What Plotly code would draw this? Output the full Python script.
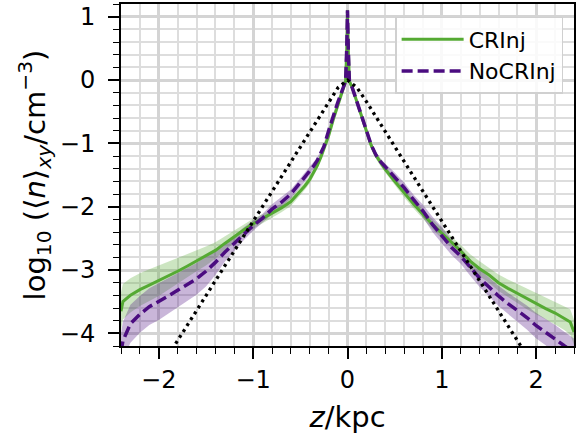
import numpy as np
import plotly.graph_objects as go

# ---- data ----
z = [-2.4, -2.38, -2.3, -2.2, -2.1, -2.0, -1.9, -1.8, -1.7, -1.6,
     -1.5, -1.4, -1.3, -1.2, -1.1, -1.0, -0.9, -0.8, -0.7, -0.6,
     -0.5, -0.45, -0.4, -0.36, -0.32, -0.28, -0.25, -0.2, -0.15, -0.1,
     -0.05, -0.02, -0.008, 0.0, 0.008, 0.02, 0.05, 0.1, 0.15, 0.2,
     0.25, 0.3, 0.35, 0.4, 0.5, 0.6, 0.7, 0.8, 0.9, 1.0,
     1.1, 1.2, 1.3, 1.4, 1.5, 1.6, 1.7, 1.8, 1.9, 2.0,
     2.1, 2.2, 2.3, 2.36, 2.4]

crinj = [-3.65, -3.50, -3.40, -3.31, -3.24, -3.17, -3.10, -3.02, -2.94, -2.86,
         -2.78, -2.69, -2.58, -2.47, -2.37, -2.27, -2.19, -2.11, -2.02, -1.92,
         -1.76, -1.67, -1.57, -1.47, -1.35, -1.21, -1.09, -0.88, -0.62, -0.38,
         -0.15, -0.02, 0.50, 1.10, 0.50, -0.02, -0.12, -0.35, -0.58, -0.82,
         -1.03, -1.19, -1.31, -1.41, -1.60, -1.78, -1.96, -2.12, -2.28, -2.42,
         -2.56, -2.70, -2.86, -2.98, -3.08, -3.20, -3.29, -3.37, -3.46, -3.53,
         -3.61, -3.68, -3.76, -3.82, -3.98]

nocrinj = [-4.30, -4.12, -3.85, -3.70, -3.58, -3.50, -3.41, -3.32, -3.23, -3.14,
           -3.02, -2.88, -2.72, -2.58, -2.43, -2.30, -2.18, -2.04, -1.93, -1.80,
           -1.62, -1.53, -1.44, -1.36, -1.27, -1.16, -1.05, -0.80, -0.56, -0.34,
           -0.14, -0.02, 0.50, 1.10, 0.50, -0.02, -0.12, -0.35, -0.56, -0.80,
           -1.02, -1.18, -1.29, -1.37, -1.53, -1.70, -1.89, -2.07, -2.28, -2.45,
           -2.64, -2.78, -2.96, -3.13, -3.27, -3.41, -3.53, -3.64, -3.75, -3.88,
           -3.98, -4.09, -4.20, -4.26, -4.30]

crinj_err = [0.30, 0.28, 0.27, 0.26, 0.25, 0.24, 0.22, 0.20, 0.18, 0.16,
             0.15, 0.13, 0.11, 0.10, 0.09, 0.08, 0.07, 0.07, 0.07, 0.07,
             0.06, 0.06, 0.06, 0.05, 0.05, 0.05, 0.05, 0.05, 0.05, 0.05,
             0.05, 0.05, 0.05, 0.05, 0.05, 0.05, 0.05, 0.05, 0.05, 0.05,
             0.05, 0.05, 0.05, 0.05, 0.06, 0.07, 0.07, 0.07, 0.08, 0.08,
             0.09, 0.10, 0.11, 0.12, 0.12, 0.13, 0.14, 0.15, 0.16, 0.16,
             0.17, 0.18, 0.19, 0.20, 0.20]

nocrinj_err = [0.30, 0.30, 0.30, 0.29, 0.29, 0.29, 0.28, 0.27, 0.26, 0.25,
               0.24, 0.20, 0.15, 0.12, 0.10, 0.08, 0.07, 0.08, 0.08, 0.07,
               0.07, 0.07, 0.06, 0.06, 0.05, 0.05, 0.05, 0.05, 0.05, 0.05,
               0.05, 0.05, 0.05, 0.05, 0.05, 0.05, 0.05, 0.05, 0.05, 0.05,
               0.05, 0.05, 0.05, 0.05, 0.07, 0.08, 0.08, 0.10, 0.12, 0.13,
               0.12, 0.12, 0.13, 0.14, 0.15, 0.16, 0.17, 0.18, 0.19, 0.20,
               0.21, 0.22, 0.22, 0.22, 0.22]

z_model = [-1.9, -1.8, -1.6, -1.4, -1.2, -1.0, -0.8, -0.6, -0.5, -0.4, -0.3, -0.2, -0.1, 0.0,
           0.1, 0.2, 0.3, 0.4, 0.5, 0.6, 0.8, 1.0, 1.2, 1.4, 1.6, 1.8, 1.9]
model = [-4.35, -4.11, -3.64, -3.17, -2.70, -2.23, -1.76, -1.29, -1.06, -0.82, -0.58, -0.34, -0.12,
         0.0, -0.12, -0.34, -0.58, -0.82, -1.06, -1.29, -1.76, -2.23, -2.70, -3.17, -3.64, -4.11, -4.35]

series_names = ["CRInj", "NoCRInj"]
x_ticks = [-2, -1, 0, 1, 2]
x_labels = ["\u22122", "\u22121", "0", "1", "2"]
y_ticks = [-4, -3, -2, -1, 0, 1]
y_labels = ["\u22124", "\u22123", "\u22122", "\u22121", "0", "1"]

GREEN = "#55aa33"
PURPLE = "#4b0c80"
GREEN_BAND = "rgba(85,170,51,0.30)"
PURPLE_BAND = "rgba(75,12,128,0.30)"
FONT = "DejaVu Sans"

fig = go.Figure()

for vals, errs, band in [(crinj, crinj_err, GREEN_BAND), (nocrinj, nocrinj_err, PURPLE_BAND)]:
    v = np.array(vals)
    e = np.array(errs)
    up = v + e
    lo = v - e
    fig.add_trace(go.Scatter(
        x=list(z) + list(z)[::-1], y=list(up) + list(lo)[::-1],
        fill="toself", fillcolor=band, line=dict(width=0), mode="lines",
        showlegend=False, hoverinfo="skip"))

fig.add_trace(go.Scatter(x=z, y=crinj, mode="lines", name=series_names[0],
                         line=dict(color=GREEN, width=3)))
fig.add_trace(go.Scatter(x=z, y=nocrinj, mode="lines", name=series_names[1],
                         line=dict(color=PURPLE, width=3.5, dash="11px,5px")))
fig.add_trace(go.Scatter(x=z_model, y=model, mode="lines", showlegend=False,
                         line=dict(color="black", width=3.3, dash="3px,4px")))

axis_common = dict(
    showline=True, linecolor="black", linewidth=2, mirror=True,
    ticks="outside", ticklen=11, tickwidth=2.2, tickcolor="black",
    showgrid=True, gridcolor="#d4d4d4", gridwidth=3,
    zeroline=False,
    tickfont=dict(family=FONT, size=24, color="black"),
    minor=dict(dtick=0.2, showgrid=True, gridcolor="#dddddd", gridwidth=1.6,
               ticks="outside", ticklen=6, tickwidth=1.4, tickcolor="black"),
)

fig.update_xaxes(range=[-2.4, 2.4], tickvals=x_ticks, ticktext=x_labels,
                 title=dict(text="<i>z</i>/kpc", font=dict(family=FONT, size=29, color="black"), standoff=16),
                 **axis_common)
fig.update_yaxes(range=[-4.2, 1.2], tickvals=y_ticks, ticktext=y_labels, ticklabelstandoff=8,
                 title=dict(text="log<sub>10</sub> (\u27e8<i>n</i>\u27e9<sub><i>xy</i></sub>/cm<sup>\u22123</sup>)",
                            font=dict(family=FONT, size=29, color="black"), standoff=6),
                 **axis_common)

fig.update_layout(
    width=576, height=434,
    margin=dict(l=121, r=2, t=4, b=88, autoexpand=False),
    plot_bgcolor="white", paper_bgcolor="white",
    font=dict(family=FONT, color="black"),
    legend=dict(x=0.976, y=0.962, xanchor="right", yanchor="top", itemwidth=62,
                bgcolor="rgba(255,255,255,0.85)", bordercolor="#d0d0d0", borderwidth=1.5,
                font=dict(family=FONT, size=22, color="black")),
)

fig.write_html("out.html")
